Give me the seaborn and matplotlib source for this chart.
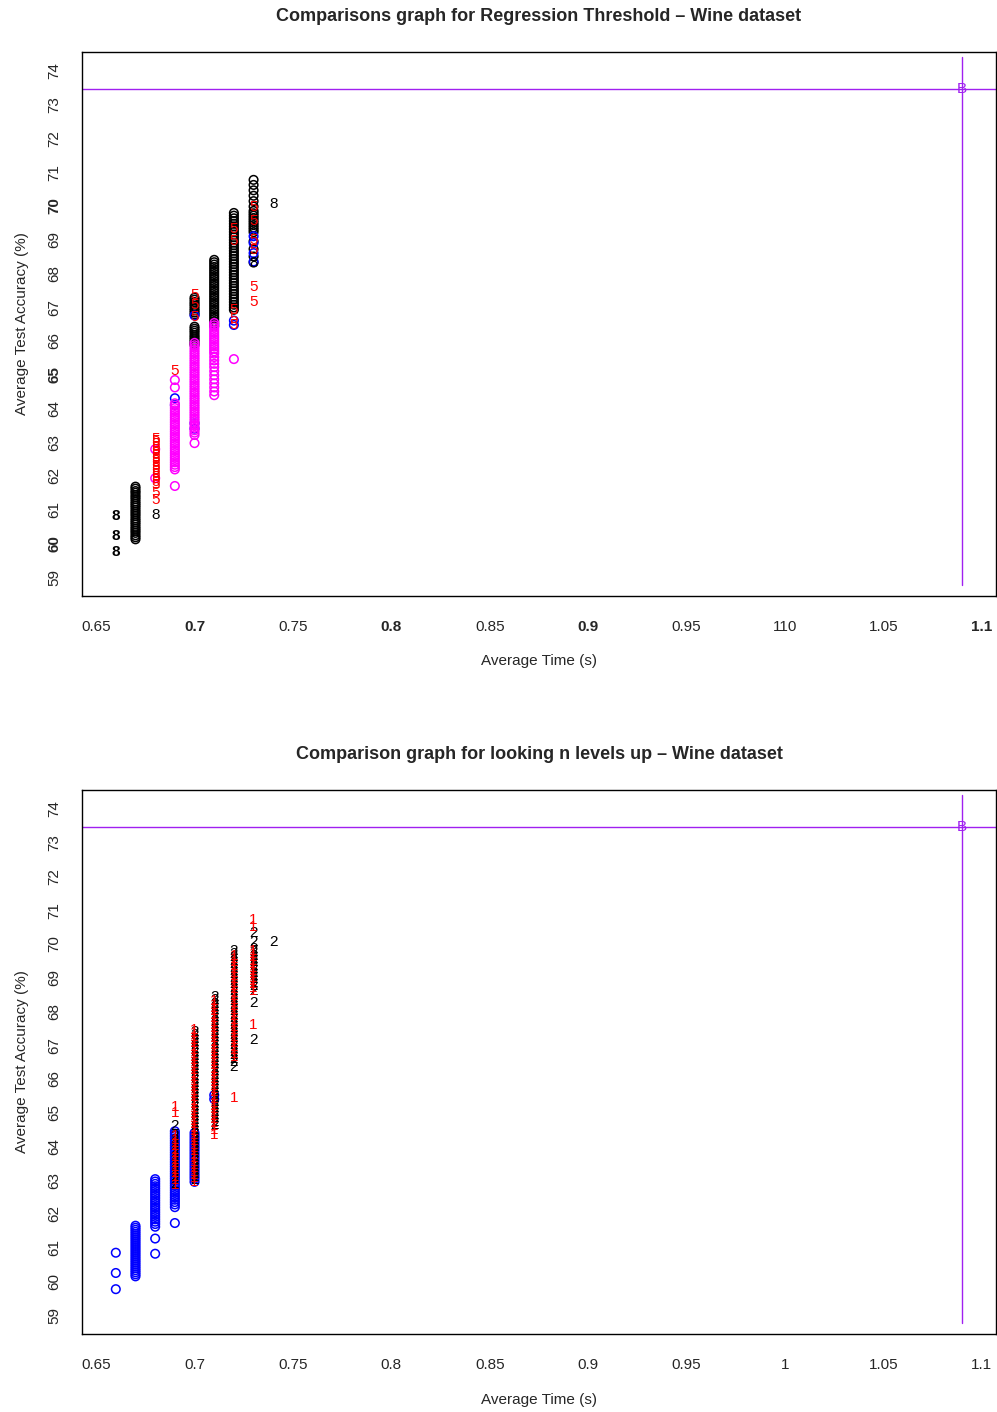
import pandas as pd
import matplotlib
matplotlib.use("Agg")
import matplotlib.pyplot as plt
import seaborn as sns

# ---- data (key = average time, values = accuracy) ----
# top panel: Regression Threshold
top_black_circ = {
    0.67: [61.68, 61.62, 61.55, 61.50, 61.43, 61.37, 61.31, 61.24, 61.18, 61.12, 61.06, 60.99,
           60.93, 60.87, 60.81, 60.74, 60.68, 60.62, 60.56, 60.49, 60.43, 60.37, 60.31, 60.24,
           60.18, 60.12],
    0.70: [67.28, 67.22, 67.15, 67.09, 67.03, 66.96, 66.90, 66.84, 66.78, 66.42, 66.36, 66.30,
           66.24, 66.17, 66.11, 66.05, 65.99, 65.93, 65.88],
    0.71: [68.40, 68.33, 68.26, 68.19, 68.12, 68.05, 67.98, 67.91, 67.84, 67.77, 67.70, 67.63,
           67.56, 67.49, 67.42, 67.35, 67.28, 67.21, 67.14, 67.07, 67.00, 66.93, 66.86, 66.79,
           66.72, 66.65, 66.58, 66.51, 66.44],
    0.72: [69.79, 69.71, 69.63, 69.55, 69.47, 69.39, 69.31, 69.23, 69.15, 69.07, 68.99, 68.91,
           68.83, 68.75, 68.67, 68.59, 68.51, 68.43, 68.35, 68.27, 68.19, 68.11, 68.03, 67.95,
           67.87, 67.79, 67.71, 67.63, 67.55, 67.47, 67.39, 67.31, 67.23, 67.15, 67.07, 66.99,
           66.92],
    0.73: [70.77, 70.62, 70.46, 70.30, 70.14, 69.98, 69.85, 69.78, 69.71, 69.64, 69.57, 69.50,
           69.43, 69.36, 69.29, 69.22, 68.95, 68.72, 68.50, 68.32],
}
top_magenta_circ = {
    0.68: [62.79, 61.93],
    0.69: [64.84, 64.62, 64.15, 64.08, 64.01, 63.94, 63.87, 63.80, 63.73, 63.66, 63.59, 63.52,
           63.45, 63.38, 63.31, 63.24, 63.17, 63.10, 63.03, 62.96, 62.89, 62.82, 62.75, 62.68,
           62.61, 62.54, 62.47, 62.40, 62.33, 62.26, 62.19, 61.70],
    0.70: [65.94, 65.87, 65.80, 65.73, 65.66, 65.59, 65.52, 65.45, 65.38, 65.31, 65.24, 65.17,
           65.10, 65.03, 64.96, 64.89, 64.82, 64.75, 64.68, 64.61, 64.54, 64.47, 64.40, 64.33,
           64.26, 64.19, 64.12, 64.05, 63.98, 63.91, 63.84, 63.77, 63.70, 63.63, 63.56, 63.49,
           63.42, 63.35, 63.28, 63.21, 62.97],
    0.71: [66.53, 66.46, 66.39, 66.32, 66.25, 66.18, 66.11, 66.04, 65.97, 65.90, 65.83, 65.76,
           65.69, 65.62, 65.52, 65.42, 65.32, 65.22, 65.10, 64.98, 64.86, 64.74, 64.62, 64.50,
           64.39],
    0.72: [65.46],
}
top_blue_circ = {
    0.69: [64.30, 64.10],
    0.70: [66.75, 63.56, 63.40],
    0.72: [66.60, 66.47],
    0.73: [69.10, 68.90, 68.60, 68.35],
}
top_eights_bold = {
    0.66: [60.81, 60.21, 59.74],
}
top_eights = {
    0.68: [60.84],
    0.73: [68.30],
    0.74: [70.06],
}
top_fives = {
    0.68: [63.10, 63.02, 62.94, 62.86, 62.78, 62.70, 62.62, 62.54, 62.46, 62.38, 62.30, 62.22,
           62.14, 62.06, 61.98, 61.90, 61.82, 61.74, 61.50, 61.28],
    0.69: [65.11],
    0.70: [67.36, 67.05, 66.72],
    0.72: [69.30, 68.95, 66.90, 66.65, 66.47],
    0.73: [69.97, 69.55, 69.00, 68.70, 67.60, 67.15],
}

# bottom panel: looking n levels up
bot_blue_circ = {
    0.66: [60.85, 60.25, 59.77],
    0.67: [61.65, 61.59, 61.53, 61.47, 61.41, 61.35, 61.29, 61.23, 61.17, 61.11, 61.05, 60.99,
           60.93, 60.87, 60.81, 60.75, 60.69, 60.63, 60.57, 60.51, 60.45, 60.39, 60.33, 60.27,
           60.21, 60.15],
    0.68: [63.03, 62.96, 62.89, 62.82, 62.75, 62.68, 62.61, 62.54, 62.47, 62.40, 62.33, 62.26,
           62.19, 62.12, 62.05, 61.98, 61.91, 61.84, 61.77, 61.70, 61.62, 61.27, 60.82],
    0.69: [64.45, 64.38, 64.31, 64.24, 64.17, 64.10, 64.03, 63.96, 63.89, 63.82, 63.75, 63.68,
           63.61, 63.54, 63.47, 63.40, 63.33, 63.26, 63.19, 63.12, 63.05, 62.98, 62.91, 62.84,
           62.77, 62.70, 62.63, 62.56, 62.49, 62.42, 62.35, 62.28, 62.20, 61.73],
    0.70: [64.40, 64.32, 64.24, 64.16, 64.08, 64.00, 63.92, 63.84, 63.76, 63.68, 63.60, 63.52,
           63.44, 63.36, 63.28, 63.20, 63.12, 63.04, 62.95],
    0.71: [65.52, 65.40],
}
bot_twos = {
    0.69: [64.60, 64.30, 64.20, 64.10, 64.00, 63.90, 63.80, 63.70, 63.60, 63.50, 63.40, 63.30,
           63.20, 63.10, 63.00, 62.90],
    0.70: [67.39, 67.29, 67.19, 67.09, 66.99, 66.89, 66.79, 66.69, 66.59, 66.49, 66.39, 66.29,
           66.19, 66.09, 65.99, 65.89, 65.79, 65.69, 65.59, 65.49, 65.39, 65.29, 65.19, 65.09,
           64.99, 64.89, 64.79, 64.69, 64.59, 64.49, 64.39, 64.29, 64.19, 64.09, 63.99, 63.89,
           63.79, 63.69, 63.59, 63.49, 63.39, 63.29, 63.19, 63.09, 62.99],
    0.71: [68.43, 68.33, 68.23, 68.13, 68.03, 67.93, 67.83, 67.73, 67.63, 67.53, 67.43, 67.33,
           67.23, 67.13, 67.03, 66.93, 66.83, 66.73, 66.63, 66.53, 66.43, 66.33, 66.23, 66.13,
           66.03, 65.93, 65.83, 65.73, 65.63, 65.53, 65.43, 65.33, 65.23, 65.13, 65.03, 64.93,
           64.83, 64.73, 64.63],
    0.72: [69.80, 69.70, 69.60, 69.50, 69.40, 69.30, 69.20, 69.10, 69.00, 68.90, 68.80, 68.70,
           68.60, 68.50, 68.40, 68.30, 68.20, 68.10, 68.00, 67.90, 67.80, 67.70, 67.60, 67.50,
           67.40, 67.30, 67.20, 67.10, 67.00, 66.90, 66.80, 66.70, 66.60, 66.50, 66.35],
    0.73: [70.32, 70.05, 69.85, 69.75, 69.65, 69.55, 69.45, 69.35, 69.25, 69.15, 69.05, 68.95,
           68.85, 68.75, 68.60, 68.25, 67.15],
    0.74: [70.06],
}
bot_ones = {
    0.69: [65.17, 64.99, 64.30, 64.20, 64.10, 64.00, 63.90, 63.80, 63.70, 63.60, 63.50, 63.40,
           63.30, 63.20, 63.10, 63.00, 62.85],
    0.70: [67.45, 67.35, 67.25, 67.15, 67.05, 66.95, 66.85, 66.75, 66.65, 66.55, 66.45, 66.35,
           66.25, 66.15, 66.05, 65.95, 65.85, 65.75, 65.65, 65.55, 65.45, 65.35, 65.25, 65.15,
           65.05, 64.95, 64.85, 64.75, 64.65, 64.55, 64.45, 64.35, 64.25, 64.15, 64.05, 63.95,
           63.85, 63.75, 63.65, 63.55, 63.45, 63.35, 63.25, 63.15, 63.05, 62.95],
    0.71: [68.30, 68.20, 68.10, 68.00, 67.90, 67.80, 67.70, 67.60, 67.50, 67.40, 67.30, 67.20,
           67.10, 67.00, 66.90, 66.80, 66.70, 66.60, 66.50, 66.40, 66.30, 66.20, 66.10, 66.00,
           65.90, 65.80, 65.70, 65.60, 65.50, 65.40, 65.30, 65.20, 65.10, 65.00, 64.90, 64.80,
           64.70, 64.60, 64.50, 64.33],
    0.72: [69.65, 69.55, 69.45, 69.35, 69.25, 69.15, 69.05, 68.95, 68.85, 68.75, 68.65, 68.55,
           68.45, 68.35, 68.25, 68.15, 68.05, 67.95, 67.85, 67.75, 67.65, 67.55, 67.45, 67.35,
           67.25, 67.15, 67.05, 66.95, 66.85, 66.75, 66.65, 65.43],
    0.73: [70.71, 70.50, 69.80, 69.70, 69.60, 69.50, 69.40, 69.30, 69.20, 69.10, 69.00, 68.90,
           68.80, 68.70, 68.60, 67.60],
}

# reference point (B) and its guide lines
ref_time = 1.09
ref_acc = 73.45
ref_vline = [58.77, 74.41]

x_ticks = [0.65, 0.7, 0.75, 0.8, 0.85, 0.9, 0.95, 1.0, 1.05, 1.1]
top_x_labels = ['0.65', '0.7', '0.75', '0.8', '0.85', '0.9', '0.95', '110', '1.05', '1.1']
bot_x_labels = ['0.65', '0.7', '0.75', '0.8', '0.85', '0.9', '0.95', '1', '1.05', '1.1']
top_x_bold = ['0.7', '0.8', '0.9', '1.1']
y_ticks = list(range(59, 75))
top_y_bold = [60, 65, 70]

PURPLE = '#A020F0'
MAGENTA = '#FF00FF'


def to_long(cols):
    rows = [(x, y) for x, ys in cols.items() for y in ys]
    return pd.DataFrame(rows, columns=['time', 'acc'])


def draw_circles(ax, cols, color):
    sns.scatterplot(data=to_long(cols), x='time', y='acc', ax=ax, marker='o', s=38,
                    facecolor='none', edgecolor=color, linewidth=1.1, zorder=3, legend=False)


def draw_chars(ax, cols, char, color, bold=False):
    for x, ys in cols.items():
        for y in ys:
            ax.text(x, y, char, color=color, ha='center', va='center', fontsize=11,
                    fontweight='bold' if bold else 'normal', zorder=4)


def style_axes(ax, title, x_labels, x_bold, y_bold):
    ax.set_xlim(0.6428, 1.1072)
    ax.set_ylim(58.44, 74.56)
    ax.axhline(ref_acc, color=PURPLE, lw=1.0, zorder=2)
    ax.plot([ref_time, ref_time], ref_vline, color=PURPLE, lw=1.0, zorder=2)
    ax.text(ref_time, ref_acc, 'B', color=PURPLE, ha='center', va='center', fontsize=11, zorder=5)
    ax.set_xticks(x_ticks)
    ax.set_xticklabels(x_labels)
    ax.set_yticks(y_ticks)
    ax.set_yticklabels([str(v) for v in y_ticks], rotation=90, va='center')
    for lab in ax.get_xticklabels():
        if lab.get_text() in x_bold:
            lab.set_fontweight('bold')
    for lab in ax.get_yticklabels():
        if int(lab.get_text()) in y_bold:
            lab.set_fontweight('bold')
    ax.tick_params(axis='both', direction='out', length=6, width=0.9, labelsize=11,
                   color='#444444')
    ax.tick_params(axis='x', pad=11)
    ax.tick_params(axis='y', pad=9)
    ax.set_xlabel('Average Time (s)', fontsize=11, labelpad=15)
    ax.set_ylabel('Average Test Accuracy (%)', fontsize=11, labelpad=13)
    ax.set_title(title, fontsize=13, fontweight='bold', pad=22)
    for sp in ax.spines.values():
        sp.set_visible(True)
        sp.set_color('black')
        sp.set_linewidth(1.0)
    ax.grid(False)


sns.set_style('white')
plt.rcParams['font.family'] = ['Liberation Sans', 'DejaVu Sans']

fig = plt.figure(figsize=(9.97, 14.12), dpi=100)
ax_top = fig.add_axes([0.0822, 0.5779, 0.9168, 0.3853])
ax_bot = fig.add_axes([0.0822, 0.0552, 0.9168, 0.3853])

# top panel
draw_circles(ax_top, top_black_circ, 'black')
draw_circles(ax_top, top_blue_circ, 'blue')
draw_chars(ax_top, top_fives, '5', 'red')
draw_circles(ax_top, top_magenta_circ, MAGENTA)
draw_chars(ax_top, top_eights_bold, '8', 'black', bold=True)
draw_chars(ax_top, top_eights, '8', 'black')
style_axes(ax_top, 'Comparisons graph for Regression Threshold \u2013 Wine dataset',
           top_x_labels, top_x_bold, top_y_bold)

# bottom panel
draw_circles(ax_bot, bot_blue_circ, 'blue')
draw_chars(ax_bot, bot_twos, '2', 'black')
draw_chars(ax_bot, bot_ones, '1', 'red')
style_axes(ax_bot, 'Comparison graph for looking n levels up \u2013 Wine dataset',
           bot_x_labels, [], [])

fig.savefig('out.png', dpi=100)
plt.close(fig)
